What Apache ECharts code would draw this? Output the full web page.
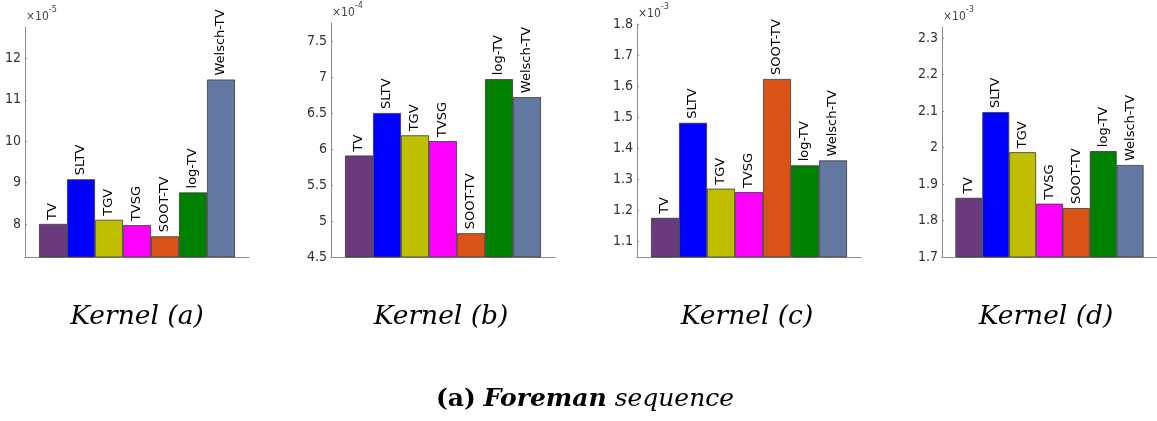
<!DOCTYPE html>
<html><head><meta charset="utf-8">
<script src="https://cdn.jsdelivr.net/npm/echarts@6/dist/echarts.min.js"></script>
<style>html,body{margin:0;padding:0;background:#fff}#c{width:1157px;height:421px}</style>
</head><body><div id="c"></div>
<script>
// ---- data ----
const methods = ['TV', 'SLTV', 'TGV', 'TVSG', 'SOOT-TV', 'log-TV', 'Welsch-TV'];
const methodColors = ['#6b3a7d', '#0000ff', '#c0be00', '#ff00ff', '#d95319', '#008000', '#6378a0'];
const kernelA = [8.00, 9.08, 8.10, 7.97, 7.70, 8.76, 11.49];      // x10^-5
const kernelB = [5.91, 6.50, 6.19, 6.11, 4.83, 6.97, 6.72];       // x10^-4
const kernelC = [1.176, 1.482, 1.270, 1.259, 1.623, 1.345, 1.361]; // x10^-3
const kernelD = [1.862, 2.097, 1.987, 1.846, 1.834, 1.990, 1.952]; // x10^-3
const panelTitles = ['Kernel (a)', 'Kernel (b)', 'Kernel (c)', 'Kernel (d)'];
const exponents = ['-5', '-4', '-3', '-3'];
const yMin = [7.2, 4.5, 1.05, 1.7];
const yMax = [12.76, 7.75, 1.8, 2.33];
const yStep = [1, 0.5, 0.1, 0.1];
const captionParts = ['(a)', 'Foreman', 'sequence'];

// ---- layout ----
const panels = [kernelA, kernelB, kernelC, kernelD];
const gridLeft = [25, 331, 637, 942];
const gridTop = [27, 23, 24, 27];
const gridBottomY = 257;
const gridW = 224;
const titleX = [137, 441, 747, 1046];
const sansC = '"DejaVu Sans Condensed", "DejaVu Sans", sans-serif';

function isMultiple(v, s) {
  const r = v / s;
  return Math.abs(r - Math.round(r)) < 1e-6;
}

const grids = [], xAxes = [], yAxes = [], series = [];
panels.forEach((vals, k) => {
  grids.push({ left: gridLeft[k], top: gridTop[k], width: gridW, height: gridBottomY - gridTop[k], containLabel: false });
  xAxes.push({
    type: 'value', gridIndex: k, min: -1, max: methods.length,
    axisLine: { show: true, onZero: false, lineStyle: { color: '#8c8c8c', width: 1 } },
    axisTick: { show: false }, axisLabel: { show: false }, splitLine: { show: false }
  });
  yAxes.push({
    type: 'value', gridIndex: k, min: yMin[k], max: yMax[k],
    minInterval: yStep[k], maxInterval: yStep[k],
    axisLine: { show: true, onZero: false, lineStyle: { color: '#8c8c8c', width: 1 } },
    axisTick: { show: true, inside: true, length: 2, lineStyle: { color: '#8c8c8c' } },
    splitLine: { show: false },
    axisLabel: {
      show: true, margin: 4, fontSize: 14, color: '#333', fontFamily: sansC,
      showMinLabel: isMultiple(yMin[k], yStep[k]),
      showMaxLabel: isMultiple(yMax[k], yStep[k])
    },
    name: '{a|\u00d710}{b|' + exponents[k] + '}',
    nameLocation: 'end', nameGap: 4,
    nameTextStyle: {
      align: 'left', verticalAlign: 'bottom', padding: [0, 0, 0, 1],
      rich: {
        a: { fontSize: 12, color: '#444', fontFamily: sansC, verticalAlign: 'bottom', lineHeight: 18 },
        b: { fontSize: 9, color: '#444', fontFamily: sansC, verticalAlign: 'top' }
      }
    }
  });
  series.push({
    type: 'bar', xAxisIndex: k, yAxisIndex: k, clip: true,
    barWidth: '100%',
    data: vals.map((v, i) => ({ value: [i, v], itemStyle: { color: methodColors[i] } })),
    itemStyle: { borderColor: '#3a3a3a', borderWidth: 0.8 },
    label: {
      show: true, position: 'top', rotate: 90, align: 'left', verticalAlign: 'middle', distance: 4,
      fontSize: 13, color: '#000', fontFamily: '"DejaVu Sans", sans-serif',
      formatter: p => methods[p.dataIndex]
    },
    emphasis: { disabled: true }
  });
});

const graphics = panelTitles.map((t, k) => ({
  type: 'text', x: titleX[k], y: 317,
  style: { text: t, align: 'center', verticalAlign: 'middle', fill: '#000',
    font: 'italic 26.5px "DejaVu Serif", serif' }
}));
graphics.push({
  type: 'text', x: 585, y: 399,
  style: {
    text: '{p|' + captionParts[0] + '} {f|' + captionParts[1] + '} {s|' + captionParts[2] + '}',
    align: 'center', verticalAlign: 'middle', fill: '#000',
    font: 'italic 25px "DejaVu Serif", serif',
    rich: {
      p: { fontWeight: 'bold', fontStyle: 'normal', fontSize: 25, fontFamily: '"DejaVu Serif", serif' },
      f: { fontWeight: 'bold', fontStyle: 'italic', fontSize: 25, fontFamily: '"DejaVu Serif", serif' },
      s: { fontWeight: 'normal', fontStyle: 'italic', fontSize: 25, fontFamily: '"DejaVu Serif", serif' }
    }
  }
});

const chart = echarts.init(document.getElementById('c'), null, { renderer: 'canvas' });
chart.setOption({
  animation: false,
  backgroundColor: '#fff',
  grid: grids, xAxis: xAxes, yAxis: yAxes, series: series,
  graphic: graphics
});
</script>
</body></html>
